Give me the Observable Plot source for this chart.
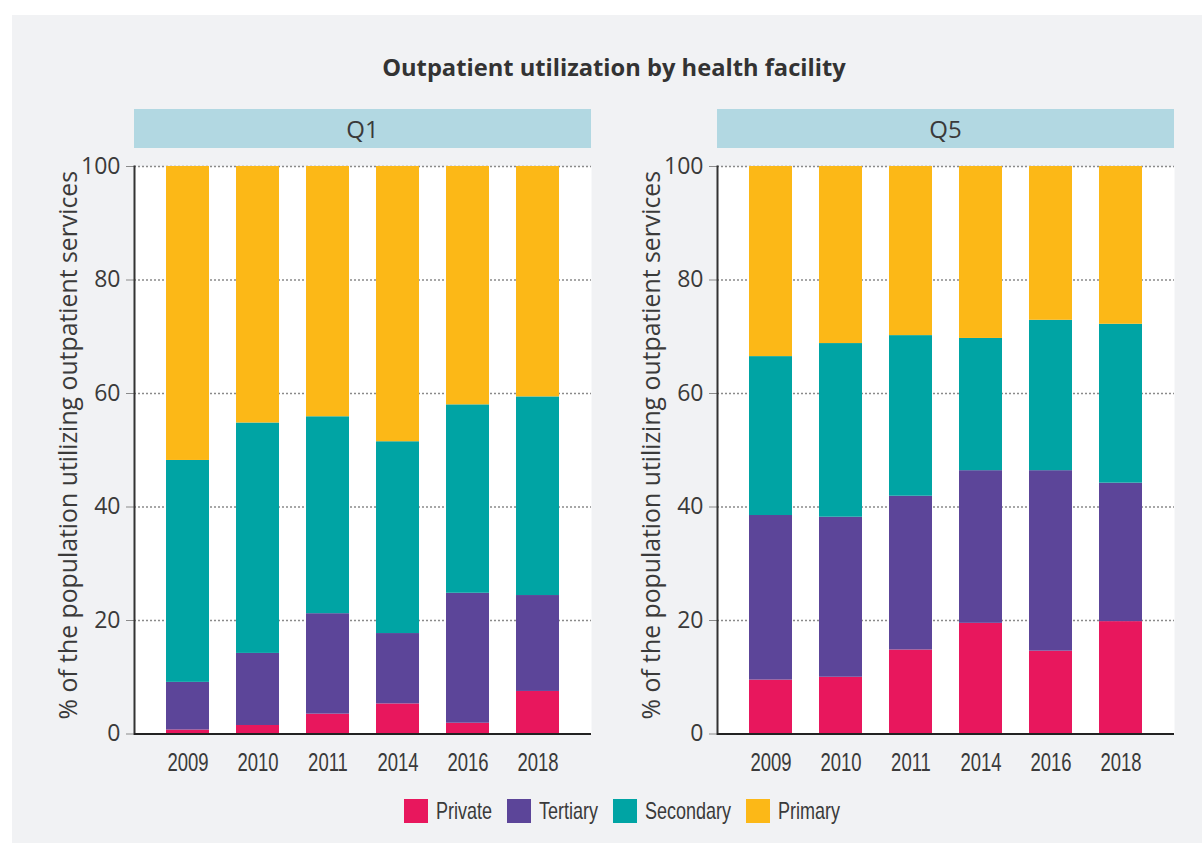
<!DOCTYPE html>
<html>
<head>
<meta charset="utf-8">
<script src="https://cdn.jsdelivr.net/npm/d3@7"></script>
<script src="https://cdn.jsdelivr.net/npm/@observablehq/plot@0.6"></script>
<style>
  html, body { margin: 0; padding: 0; background: #ffffff; }
  body { width: 1202px; height: 843px; position: relative; overflow: hidden; }
  #panel { position: absolute; left: 12px; top: 15px; width: 1190px; height: 828px; background: #f1f2f4; }
  #title { position: absolute; left: 0; top: 51px; width: 1228px; text-align: center;
           font-family: "Open Sans", sans-serif; font-weight: 700; font-size: 23.7px; color: #333; }
  .hdr { position: absolute; top: 109px; height: 39px; background: #b2d8e2; color: #3a3a3a;
         font-family: "Open Sans", sans-serif; font-size: 24px; line-height: 39px; text-align: center; }
  .plot { position: absolute; top: 150px; }
  #legend { position: absolute; left: 404px; top: 799px; height: 24px; display: flex; align-items: center;
            font-family: "Liberation Sans", sans-serif; font-size: 24px; color: #3a3a3a; white-space: nowrap; }
  .sw { width: 24px; height: 24px; margin-right: 8px; flex: none; }
  .lt { display: inline-block; transform: scaleX(0.75); transform-origin: left center; flex: none; }
</style>
</head>
<body>
<div id="panel"></div>
<div id="title">Outpatient utilization by health facility</div>
<div class="hdr" id="h1" style="left:134px;width:457px;">Q1</div>
<div class="hdr" id="h2" style="left:717px;width:457px;">Q5</div>
<div class="plot" id="p1" style="left:0px;"></div>
<div class="plot" id="p2" style="left:583px;"></div>
<div id="legend"></div>
<script>
const years = ["2009", "2010", "2011", "2014", "2016", "2018"];
const types = ["Private", "Tertiary", "Secondary", "Primary"];
const colors = ["#e8175d", "#5c4599", "#00a4a4", "#fcb817"];
const yTicks = [0, 20, 40, 60, 80, 100];
const yLabel = "% of the population utilizing outpatient services";

const q1Private   = [0.7, 1.5, 3.5, 5.3, 1.9, 7.5];
const q1Tertiary  = [8.4, 12.7, 17.7, 12.4, 22.9, 16.9];
const q1Secondary = [39.1, 40.6, 34.7, 33.8, 33.2, 35.0];
const q1Primary   = [51.8, 45.2, 44.1, 48.5, 42.0, 40.6];

const q5Private   = [9.5, 10.0, 14.8, 19.5, 14.6, 19.8];
const q5Tertiary  = [29.0, 28.2, 27.1, 26.9, 31.8, 24.4];
const q5Secondary = [28.0, 30.6, 28.3, 23.3, 26.5, 28.0];
const q5Primary   = [33.5, 31.2, 29.8, 30.3, 27.1, 27.8];

function tidy(series) {
  const rows = [];
  years.forEach((yr, i) => {
    types.forEach((t, j) => rows.push({year: yr, type: t, value: series[j][i]}));
  });
  return rows;
}

function makePlot(data) {
  const svg = Plot.plot({
    width: 600,
    height: 634,
    marginLeft: 134,
    marginRight: 9,
    marginTop: 16,
    marginBottom: 50.5,
    style: {background: "transparent", overflow: "visible"},
    x: {domain: years, paddingInner: 0.389, paddingOuter: 0.4375, label: null},
    y: {domain: [0, 100], label: null},
    color: {domain: types, range: colors},
    marks: [
      Plot.frame({fill: "white", stroke: "none"}),
      Plot.gridY(yTicks, {stroke: "#8a8a8a", strokeOpacity: 1, strokeWidth: 1.4, strokeDasharray: "2,2"}),
      Plot.barY(data, {x: "year", y: "value", fill: "type", z: "type", order: types}),
      Plot.axisY(yTicks, {tickSize: 8, tickPadding: 6, stroke: "#8a8a8a", color: "#3a3a3a",
                          fontSize: 23, fontFamily: "Open Sans", label: null}),
      Plot.axisX({tickSize: 0, tickPadding: 19, color: "#3a3a3a", fontSize: 25,
                  fontFamily: "Liberation Sans", label: null}),
      Plot.frame({anchor: "left", stroke: "#333", strokeWidth: 2}),
      Plot.ruleY([0], {stroke: "#222", strokeWidth: 2}),
      Plot.text([yLabel], {frameAnchor: "left", textAnchor: "middle", dx: -65, dy: -5, rotate: -90,
                           fontSize: 24.8, fontFamily: "Open Sans", fill: "#3a3a3a"})
    ]
  });
  // condensed look for the year tick labels
  d3.select(svg).selectAll('g[aria-label="x-axis tick label"] text')
    .attr("transform", function () { return (this.getAttribute("transform") || "") + " scale(0.74,1)"; });
  return svg;
}

document.getElementById("p1").appendChild(makePlot(tidy([q1Private, q1Tertiary, q1Secondary, q1Primary])));
document.getElementById("p2").appendChild(makePlot(tidy([q5Private, q5Tertiary, q5Secondary, q5Primary])));

const legend = document.getElementById("legend");
types.forEach((t, i) => {
  const sw = document.createElement("div");
  sw.className = "sw";
  sw.style.background = colors[i];
  const lt = document.createElement("span");
  lt.className = "lt";
  lt.textContent = t;
  legend.appendChild(sw);
  legend.appendChild(lt);
  const w = lt.offsetWidth;
  lt.style.marginRight = (15 - w * 0.25) + "px";
});
</script>
</body>
</html>
